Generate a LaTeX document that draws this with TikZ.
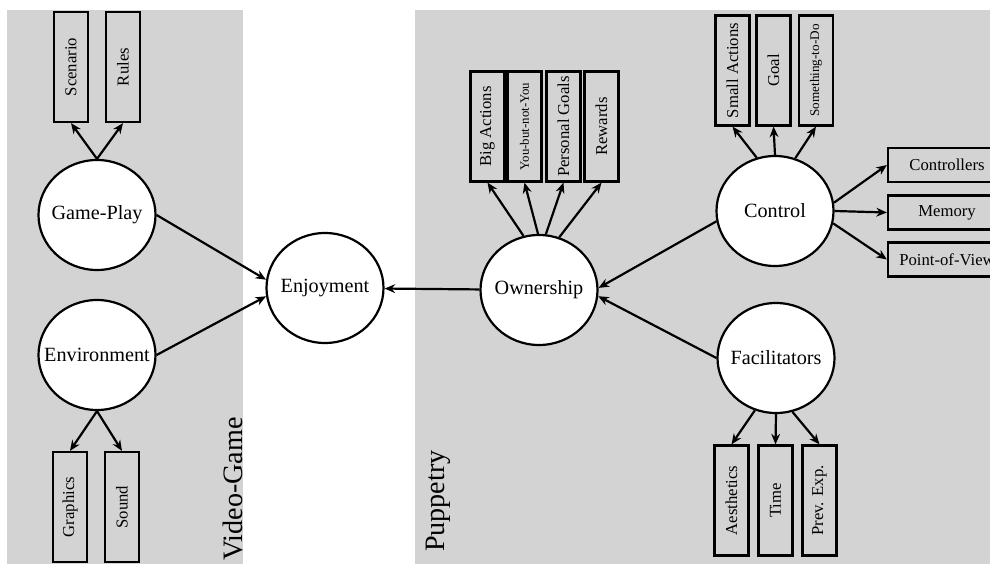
\documentclass[tikz,border=0pt]{standalone}
\usepackage{fontspec}
\setmainfont{Liberation Serif}
\usepackage{graphicx}
\usetikzlibrary{shapes.geometric,arrows.meta}
\definecolor{panelgray}{RGB}{211,211,211}

\begin{document}
\begin{tikzpicture}[x=0.2mm,y=-0.2mm,>={Stealth[length=6pt,width=5pt]},line width=1.25pt,
  bubble/.style={ellipse,draw,fill=white,minimum width=23.4mm,minimum height=22mm,inner sep=0pt,font=\fontsize{11.5}{13}\selectfont},
  vbox/.style={draw,minimum width=6.8mm,minimum height=22mm,inner sep=0pt,font=\fontsize{9.5}{11}\selectfont},
  hbox/.style={draw,minimum width=23.6mm,minimum height=6.8mm,inner sep=0pt,font=\fontsize{9.5}{11}\selectfont},
  side/.style={rotate=90,anchor=base west,inner sep=0pt,font=\fontsize{16}{19}\selectfont}]
\def\link#1#2{
\draw[->] #1 -- #2;
}
\def\word#1{\makebox[0pt]{#1}}
\useasboundingbox (0,0) rectangle (990,564);
\fill[panelgray] (7,10) rectangle (243,564);
\fill[panelgray] (415,10) rectangle (990,564);
\coordinate (cgp) at (97,215);
\coordinate (cenv) at (97,355);
\coordinate (cenj) at (325,288);
\coordinate (cown) at (539,290);
\coordinate (cctrl) at (775,211);
\coordinate (cfac) at (776,358);
\node[bubble] (gp) at (cgp) {\word{Game-Play}};
\node[bubble] (env) at (cenv) {\word{Environment}};
\node[bubble] (enj) at (cenj) {\word{Enjoyment}};
\node[bubble] (own) at (cown) {\word{Ownership}};
\node[bubble] (ctrl) at (cctrl) {\word{Control}};
\node[bubble] (fac) at (cfac) {\word{Facilitators}};
% video game side
\node[vbox] (scen) at (71,67) {\rotatebox{90}{Scenario}};
\node[vbox] (rules) at (123,67) {\rotatebox{90}{Rules}};
\node[vbox] (graph) at (70,507) {\rotatebox{90}{Graphics}};
\node[vbox] (sound) at (122,507) {\rotatebox{90}{Sound}};
% puppetry side
\node[vbox] (bigact) at (487.5,126.5) {\rotatebox{90}{Big Actions}};
\node[vbox,font=\fontsize{7.3}{9}\selectfont] (ybny) at (524.5,126.5) {\rotatebox{90}{You-but-not-You}};
\node[vbox] (pgoals) at (563.5,126.5) {\rotatebox{90}{Personal Goals}};
\node[vbox] (rewards) at (601.5,126.5) {\rotatebox{90}{Rewards}};
\node[vbox] (small) at (732.5,70.5) {\rotatebox{90}{Small Actions}};
\node[vbox] (goal) at (773.5,70.5) {\rotatebox{90}{Goal}};
\node[vbox,font=\fontsize{7.5}{9}\selectfont] (sthg) at (816,70.5) {\rotatebox{90}{Something-to-Do}};
\node[hbox] (ctrls) at (947,165) {Controllers};
\node[hbox] (mem) at (947,212.5) {Memory};
\node[hbox] (pov) at (947,259.5) {Point-of-View};
\node[vbox] (aes) at (731.5,500.5) {\rotatebox{90}{Aesthetics}};
\node[vbox] (tm) at (775.5,500.5) {\rotatebox{90}{Time}};
\node[vbox] (prev) at (819.5,500.5) {\rotatebox{90}{Prev. Exp.}};
\node[side] (vg) at (242,562) {Video-Game};
\node[side] (pup) at (444,553) {Puppetry};
\link{(gp.north)}{(scen.south)}
\link{(gp.north)}{(rules.south)}
\link{(env.south)}{(graph.north)}
\link{(env.south)}{(sound.north)}
\link{(gp.east)}{(enj.172)}
\link{(env.east)}{(enj.188)}
\link{(own)}{(enj)}
\link{(ctrl.190)}{(own.2)}
\link{(fac.180)}{(own.354)}
\link{(own.106)}{(bigact.south)}
\link{(own.91)}{(ybny.south)}
\link{(own.83)}{(pgoals.south)}
\link{(own.69)}{(rewards.south)}
\link{(ctrl.109)}{(small.south)}
\link{(ctrl.north)}{(goal.south)}
\link{(ctrl.69)}{(sthg.south)}
\link{(ctrl.8)}{(ctrls.west)}
\link{(ctrl.east)}{(mem.west)}
\link{(ctrl.348)}{(pov.west)}
\link{(fac.248)}{(aes.north)}
\link{(fac.south)}{(tm.north)}
\link{(fac.287)}{(prev.north)}
\end{tikzpicture}
\end{document}
